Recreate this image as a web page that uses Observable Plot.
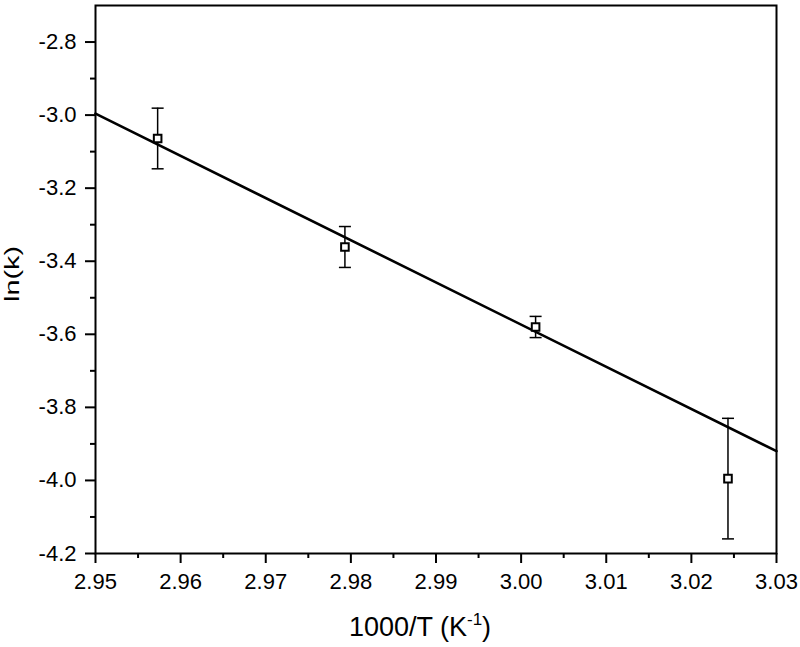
<!DOCTYPE html>
<html>
<head>
<meta charset="utf-8">
<script src="https://cdn.jsdelivr.net/npm/d3@7"></script>
<script src="https://cdn.jsdelivr.net/npm/@observablehq/plot@0.6"></script>
<style>
  html, body { margin: 0; padding: 0; background: #fff; }
  svg { display: block; }
</style>
</head>
<body>
<div id="chart"></div>
<script>
// Data
const invT = [2.9573, 2.9793, 3.0017, 3.0243];   // 1000/T (K^-1)
const lnk  = [-3.064, -3.361, -3.580, -3.995];   // ln(k)
const err  = [0.083, 0.056, 0.029, 0.165];       // error bar half-widths

// Fitted line (endpoints at the axis limits)
const fitX = [2.95, 3.03];
const fitY = [-2.996, -3.920];

// Ticks
const xTicks = [2.95, 2.96, 2.97, 2.98, 2.99, 3.00, 3.01, 3.02, 3.03];
const xMinor = [2.955, 2.965, 2.975, 2.985, 2.995, 3.005, 3.015, 3.025];
const yTicks = [-4.2, -4.0, -3.8, -3.6, -3.4, -3.2, -3.0, -2.8];
const yMinor = [-4.1, -3.9, -3.7, -3.5, -3.3, -3.1, -2.9];

const points = invT.map((x, i) => ({x, y: lnk[i], lo: lnk[i] - err[i], hi: lnk[i] + err[i]}));
const fit = fitX.map((x, i) => ({x, y: fitY[i]}));

const capSymbol = {
  draw(context) { context.moveTo(-6, 0); context.lineTo(6, 0); }
};
const boxSymbol = {
  draw(context) { context.rect(-3.8, -3.8, 7.6, 7.6); }
};

const svg = Plot.plot({
  width: 800,
  height: 647,
  marginLeft: 95,
  marginRight: 24,
  marginTop: 5,
  marginBottom: 94,
  x: {domain: [2.95, 3.03]},
  y: {domain: [-4.2, -2.7]},
  style: {fontFamily: "'Liberation Sans', Arial, sans-serif", fontSize: "22px", background: "#fff", color: "#000"},
  marks: [
    Plot.axisX({ticks: xTicks, tickSize: 10, tickPadding: 10, strokeWidth: 2, fontSize: 22, tickFormat: d => d.toFixed(2), label: null}),
    Plot.axisX({ticks: xMinor, tickSize: 5, strokeWidth: 2, text: null, label: null}),
    Plot.axisY({ticks: yTicks, tickSize: 10, tickPadding: 9, strokeWidth: 2, fontSize: 22, tickFormat: d => d.toFixed(1), label: null}),
    Plot.axisY({ticks: yMinor, tickSize: 5, strokeWidth: 2, text: null, label: null}),
    Plot.line(fit, {x: "x", y: "y", stroke: "#000", strokeWidth: 2.6}),
    Plot.ruleX(points, {x: "x", y1: "lo", y2: "hi", stroke: "#000", strokeWidth: 1.5}),
    Plot.dot(points, {x: "x", y: "hi", symbol: capSymbol, stroke: "#000", fill: "none", strokeWidth: 1.5}),
    Plot.dot(points, {x: "x", y: "lo", symbol: capSymbol, stroke: "#000", fill: "none", strokeWidth: 1.5}),
    Plot.dot(points, {x: "x", y: "y", symbol: boxSymbol, stroke: "#000", fill: "#fff", strokeWidth: 2}),
    Plot.frame({stroke: "#000", strokeWidth: 2})
  ]
});

const s = d3.select(svg);
// make sure tick labels are at the reference size
s.selectAll("g[aria-label$='tick label']").attr("font-size", 22).style("font-size", "22px");
s.selectAll("g[aria-label$='tick label'] text").style("font-size", "22px");

// x-axis title
const xt = s.append("text")
  .attr("x", 420).attr("y", 636)
  .attr("text-anchor", "middle")
  .attr("font-size", 27)
  .attr("fill", "#000");
xt.append("tspan").text("1000/T (K");
xt.append("tspan").attr("dy", -11).attr("font-size", 17).text("-1");
xt.append("tspan").attr("dy", 11).text(")");

// y-axis title
s.append("text")
  .attr("transform", "translate(19,274) rotate(-90)")
  .attr("text-anchor", "middle")
  .attr("font-size", 20)
  .attr("textLength", 56)
  .attr("lengthAdjust", "spacingAndGlyphs")
  .attr("fill", "#000")
  .text("ln(k)");

document.getElementById("chart").appendChild(svg);
</script>
</body>
</html>
